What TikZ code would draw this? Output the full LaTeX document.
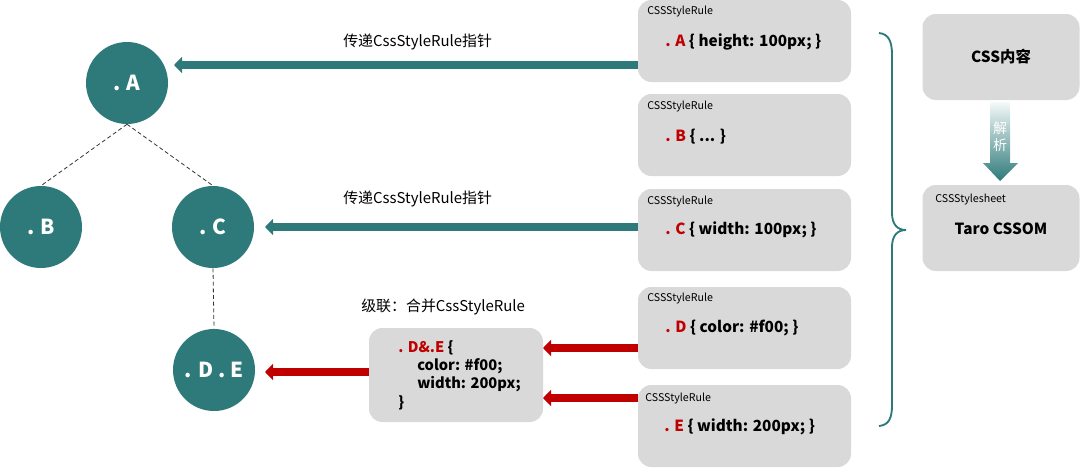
\documentclass[tikz,border=0pt]{standalone}
\usepackage{fontspec}
\setmainfont{Noto Sans CJK SC}
\usetikzlibrary{arrows.meta}
\definecolor{teal1}{RGB}{46,122,122}
\definecolor{cred}{RGB}{192,0,0}
\definecolor{boxgray}{RGB}{217,217,217}
\tikzset{
  circ/.style={circle,fill=teal1,minimum size=61.5pt,inner sep=0pt,text=white,font=\bfseries\fontsize{15.5}{18}\selectfont},
  rulebox/.style={rectangle,rounded corners=10pt,fill=boxgray,minimum width=159.75pt,minimum height=61.5pt,inner sep=0pt},
  small/.style={anchor=west,font=\fontsize{8}{10}\selectfont,inner sep=0pt},
  code/.style={anchor=west,font=\bfseries\fontsize{11.5}{14}\selectfont,inner sep=0pt},
  mcode/.style={anchor=west,font=\bfseries\fontsize{11}{13}\selectfont,inner sep=0pt},
  lbl/.style={anchor=west,font=\fontsize{11.2}{13}\selectfont,inner sep=0pt},
  dashline/.style={densely dashed,line width=0.6pt,black!80},
  tealarrow/.style={teal1,line width=6.5pt,-{Triangle[length=6pt,width=12pt]}},
  redarrow/.style={cred,line width=6pt,-{Triangle[length=6pt,width=12pt]}},
}
\begin{document}
\begin{tikzpicture}[x=0.75pt,y=-0.75pt]
\useasboundingbox (0,0) rectangle (1080,468);
% tree
\node[circ] (a) at (127,83) {. A};
\node[circ] (b) at (41,227) {. B};
\node[circ] (c) at (213,227) {. C};
\node[circ] (de) at (214,370) {. D . E};
\draw[dashline] (a.south) -- (b.north);
\draw[dashline] (a.south) -- (c.north);
\draw[dashline] (c.south) -- (de.north);
% rule boxes
\node[rulebox] (ra) at (744.5,41) {};
\node[rulebox] (rb) at (744.5,135) {};
\node[rulebox] (rc) at (744.5,230) {};
\node[rulebox] (rd) at (744.5,328) {};
\node[rulebox] (re) at (744.5,426) {};
\node[small] (la) at (647,12) {CSSStyleRule};
\node[small] (lb) at (647,106) {CSSStyleRule};
\node[small] (lc) at (647,201) {CSSStyleRule};
\node[small] (ld) at (647,298) {CSSStyleRule};
\node[small] (le) at (645,398) {CSSStyleRule};
\node[code] (ca) at (665,42) {\textcolor{cred}{. A} \{ height: 100px; \}};
\node[code] (cb) at (665,137) {\textcolor{cred}{. B} \{ ... \}};
\node[code] (cc) at (665,230) {\textcolor{cred}{. C} \{ width: 100px; \}};
\node[code] (cd) at (665,328) {\textcolor{cred}{. D} \{ color: \#f00; \}};
\node[code] (ce) at (664,427) {\textcolor{cred}{. E} \{ width: 200px; \}};
% merged box
\node[rectangle,rounded corners=10pt,fill=boxgray,minimum width=130.5pt,minimum height=70.5pt,inner sep=0pt] (m) at (456,375) {};
\node[mcode] (m1) at (398,348) {\textcolor{cred}{. D\&.E} \{};
\node[mcode] (m2) at (417,366) {color: \#f00;};
\node[mcode] (m3) at (417,384) {width: 200px;};
\node[mcode] (m4) at (398,403) {\}};
% labels
\node[lbl] (t1) at (343,42) {传递CssStyleRule指针};
\node[lbl] (t2) at (343,199) {传递CssStyleRule指针};
\node[lbl] (t3) at (361,307) {级联：合并CssStyleRule};
% arrows
\coordinate (tipA) at (174,65);
\coordinate (tipC) at (265,227);
\coordinate (tipDE) at (265,372);
\coordinate (tipD) at (543,348);
\coordinate (tipE) at (543,398);
\draw[tealarrow] (ra.west |- tipA) -- (tipA);
\draw[tealarrow] (rc.west |- tipC) -- (tipC);
\draw[redarrow] (m.west |- tipDE) -- (tipDE);
\draw[redarrow] (rd.west |- tipD) -- (tipD);
\draw[redarrow] (re.west |- tipE) -- (tipE);
% brace
\draw[teal1,line width=1.4pt] (879,33) .. controls (889,34) and (892,42) .. (892,55) -- (892,213) .. controls (892,224) and (897,230) .. (906,230) .. controls (897,230) and (892,236) .. (892,247) -- (892,405) .. controls (892,418) and (889,425) .. (879,426);
% right side
\node[rectangle,rounded corners=10pt,fill=boxgray,minimum width=117.75pt,minimum height=64.5pt,inner sep=0pt] (css) at (1001,57) {};
\node[code,anchor=center] (csst) at (1001,57) {CSS内容};
\node[rectangle,rounded corners=10pt,fill=boxgray,minimum width=117.75pt,minimum height=64.5pt,inner sep=0pt] (cssom) at (1001,228) {};
\node[small] (cssoml) at (935,199) {CSSStylesheet};
\node[code,anchor=center] (cssomt) at (1001,229) {Taro CSSOM};
\shade[top color=teal1!5, bottom color=teal1] (990,102) -- (1010,102) -- (1010,163) -- (1018,163) -- (1000,181) -- (983,163) -- (990,163) -- cycle;
\node[font=\fontsize{10.5}{12}\selectfont,text=white,inner sep=0pt] (j1) at (1000,128) {解};
\node[font=\fontsize{10.5}{12}\selectfont,text=white,inner sep=0pt] (j2) at (1000,145) {析};
\end{tikzpicture}
\end{document}
